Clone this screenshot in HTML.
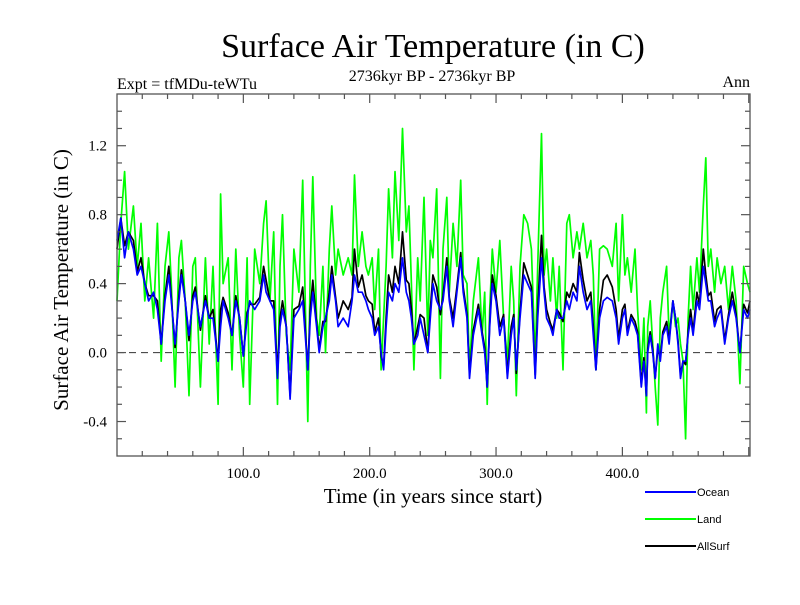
<!DOCTYPE html>
<html><head><meta charset="utf-8"><style>
body{margin:0;background:#fff;width:800px;height:600px;overflow:hidden}
svg text{font-family:"Liberation Serif",serif}
svg text.sans{font-family:"Liberation Sans",sans-serif}
</style></head><body>
<svg id="chart" width="800" height="600" xmlns="http://www.w3.org/2000/svg">
<text x="433" y="57" font-size="34" text-anchor="middle">Surface Air Temperature (in C)</text>
<text x="117" y="89" font-size="16">Expt = tfMDu-teWTu</text>
<text x="432" y="81" font-size="16" text-anchor="middle">2736kyr BP - 2736kyr BP</text>
<text x="750" y="87" font-size="16" text-anchor="end">Ann</text>
<text transform="translate(68,280) rotate(-90)" font-size="21" text-anchor="middle">Surface Air Temperature (in C)</text>
<text x="433" y="503" font-size="21" text-anchor="middle">Time (in years since start)</text>
<g id="plot"></g>
<g id="legend">
 <g><line x1="645" y1="492" x2="696" y2="492" stroke="#0000ff" stroke-width="2"/><text class="sans" x="697" y="496" font-size="11">Ocean</text></g>
 <g><line x1="645" y1="519" x2="696" y2="519" stroke="#00ff00" stroke-width="2"/><text class="sans" x="697" y="523" font-size="11">Land</text></g>
 <g><line x1="645" y1="546" x2="696" y2="546" stroke="#000" stroke-width="2"/><text class="sans" x="697" y="550" font-size="11">AllSurf</text></g>
</g>
</svg>
<script>
const years=[0,3,6,9,13,16,19,22,25,29,32,35,38,41,43,46,49,51,54,57,60,62,66,70,73,76,80,82,84,88,91,94,97,100,103,105,109,113,116,118,121,124,127,129,131,134,137,140,144,147,151,153,155,158,160,163,165,168,170,173,175,179,183,186,188,191,194,197,199,202,204,207,209,211,213,215,218,220,223,226,229,231,233,235,238,240,243,246,248,250,253,256,258,261,263,266,269,272,274,277,279,282,286,289,291,293,295,297,300,303,306,309,312,314,316,319,322,325,328,331,333,336,338,340,343,345,348,350,353,356,358,361,364,366,369,372,375,377,379,382,385,388,392,395,397,400,402,404,407,410,412,415,417,419,420,422,424,426,428,430,432,435,437,440,442,444,446,448,450,452,454,456,459,461,464,466,468,470,473,475,478,481,484,487,490,493,496,499,501];
const ocean=[0.65,0.78,0.55,0.7,0.6,0.45,0.5,0.4,0.3,0.35,0.25,0.05,0.3,0.45,0.3,0.05,0.3,0.45,0.3,0.1,0.3,0.35,0.15,0.3,0.2,0.2,-0.05,0.15,0.3,0.2,0.1,0.3,0.2,-0.02,0.2,0.3,0.25,0.3,0.45,0.35,0.3,0.25,-0.15,0.15,0.25,0.15,-0.27,0.2,0.25,0.3,-0.1,0.2,0.35,0.15,0.0,0.15,0.2,0.3,0.45,0.3,0.15,0.2,0.15,0.3,0.45,0.35,0.35,0.3,0.25,0.2,0.1,0.15,0.0,-0.1,0.15,0.35,0.3,0.4,0.35,0.55,0.35,0.3,0.2,0.05,0.1,0.2,0.1,0.0,0.2,0.4,0.3,0.25,0.3,0.5,0.3,0.15,0.35,0.55,0.35,0.2,-0.15,0.1,0.25,0.1,0.0,-0.2,0.15,0.4,0.3,0.1,0.2,-0.15,0.1,0.2,-0.1,0.2,0.45,0.4,0.35,-0.15,0.2,0.55,0.35,0.2,0.15,0.1,0.25,0.2,0.2,0.3,0.25,0.35,0.3,0.5,0.35,0.25,0.3,0.1,-0.1,0.2,0.3,0.32,0.3,0.2,0.05,0.2,0.25,0.1,0.2,0.15,0.1,-0.2,-0.05,-0.25,0.0,0.1,0.0,-0.15,0.05,-0.05,0.1,0.15,0.05,0.3,0.2,0.05,-0.15,-0.05,-0.05,0.1,0.2,0.1,0.3,0.25,0.5,0.4,0.3,0.3,0.15,0.2,0.25,0.05,0.2,0.3,0.2,0.0,0.25,0.2,0.25];
const land=[0.3,0.75,1.05,0.6,0.85,0.5,0.75,0.3,0.55,0.2,0.75,-0.05,0.5,0.7,0.4,-0.2,0.55,0.65,0.3,-0.25,0.5,0.55,-0.2,0.55,0.05,0.5,-0.3,0.92,0.4,0.55,-0.1,0.6,0.1,-0.2,0.55,-0.3,0.6,0.4,0.75,0.88,0.3,0.7,-0.3,0.5,0.8,0.1,-0.1,0.6,0.35,1.0,-0.4,0.5,1.02,0.2,0.1,0.5,0.0,0.6,0.85,0.45,0.6,0.45,0.55,0.45,1.03,0.5,0.7,0.5,0.45,0.55,0.25,0.6,-0.1,0.2,0.5,0.95,0.55,1.05,0.65,1.3,0.7,0.85,0.4,-0.1,0.55,0.3,0.9,0.1,0.65,0.55,0.95,-0.15,0.6,0.9,0.35,0.75,0.5,1.0,0.45,0.4,-0.1,0.3,0.55,0.1,0.35,-0.3,0.25,0.6,0.35,0.65,0.2,-0.05,0.5,0.3,-0.25,0.5,0.8,0.75,0.6,-0.05,0.5,1.27,0.45,0.6,0.3,0.55,0.2,0.5,-0.1,0.75,0.8,0.55,0.7,0.6,0.75,0.55,0.65,0.45,-0.1,0.6,0.62,0.6,0.5,0.75,0.3,0.8,0.45,0.55,0.35,0.6,0.25,-0.1,0.2,-0.35,0.15,0.3,0.05,-0.2,-0.42,0.2,0.35,0.5,0.1,0.3,0.15,0.2,0.05,-0.05,-0.5,0.2,0.5,0.25,0.55,0.35,0.85,1.13,0.5,0.6,0.35,0.55,0.4,0.5,0.25,0.5,0.3,-0.18,0.5,0.4,0.35];
const allsurf=[0.6,0.78,0.62,0.7,0.65,0.47,0.55,0.4,0.33,0.33,0.3,0.05,0.33,0.5,0.32,0.03,0.33,0.48,0.3,0.07,0.33,0.38,0.13,0.33,0.2,0.25,-0.05,0.25,0.32,0.23,0.1,0.33,0.2,-0.02,0.23,0.28,0.28,0.32,0.5,0.42,0.3,0.3,-0.12,0.2,0.3,0.15,-0.25,0.25,0.27,0.38,-0.1,0.25,0.42,0.17,0.02,0.18,0.18,0.35,0.5,0.32,0.2,0.3,0.25,0.32,0.6,0.38,0.45,0.33,0.3,0.28,0.12,0.2,-0.02,-0.08,0.2,0.45,0.35,0.5,0.4,0.7,0.42,0.4,0.25,0.05,0.15,0.22,0.2,0.0,0.25,0.45,0.38,0.22,0.33,0.55,0.32,0.2,0.38,0.58,0.38,0.22,-0.13,0.13,0.28,0.12,0.03,-0.2,0.17,0.45,0.33,0.15,0.22,-0.13,0.15,0.22,-0.12,0.23,0.52,0.45,0.38,-0.13,0.25,0.68,0.38,0.25,0.17,0.13,0.25,0.23,0.18,0.35,0.32,0.4,0.35,0.58,0.42,0.3,0.35,0.15,-0.1,0.25,0.42,0.45,0.38,0.25,0.08,0.25,0.28,0.12,0.22,0.18,0.12,-0.18,-0.03,-0.25,0.02,0.12,0.02,-0.15,0.02,-0.03,0.12,0.18,0.07,0.3,0.2,0.07,-0.13,-0.05,-0.07,0.12,0.25,0.12,0.35,0.28,0.6,0.45,0.33,0.35,0.18,0.25,0.27,0.07,0.22,0.35,0.22,0.0,0.28,0.23,0.3];
const xTickValues=[100,200,300,400];
const xTickLabels=["100.0","200.0","300.0","400.0"];
const yTickValues=[-0.4,0.0,0.4,0.8,1.2];
const yTickLabels=["-0.4","0.0","0.4","0.8","1.2"];

const L=117,R=750,T=94,B=456,X0=0,X1=501,Y0=-0.6,Y1=1.5;
const sx=v=>L+(v-X0)/(X1-X0)*(R-L);
const sy=v=>B-(v-Y0)/(Y1-Y0)*(B-T);
const NS="http://www.w3.org/2000/svg";
const plot=document.getElementById('plot');
function mk(tag,attrs,parent){const e=document.createElementNS(NS,tag);for(const k in attrs)e.setAttribute(k,attrs[k]);(parent||plot).appendChild(e);return e;}

const zl=mk('line',{x1:L,x2:R,y1:sy(0),y2:sy(0),stroke:'#333','stroke-width':1,'stroke-dasharray':'7,5'});



function series(vals,color,name){
  const d=vals.map((v,i)=>(i?'L':'M')+sx(years[i]).toFixed(1)+','+sy(v).toFixed(1)).join('');
  const p=mk('path',{d:d,fill:'none',stroke:color,'stroke-width':1.7,'stroke-linejoin':'round'});
  
  
}
series(land,'#00ff00','land-series');
series(allsurf,'#000000','allsurf-series');
series(ocean,'#0000ff','ocean-series');

const frame=mk('rect',{x:L,y:T,width:R-L,height:B-T,fill:'none',stroke:'#555','stroke-width':1.3});



const ax=mk('g',{stroke:'#555','stroke-width':1.2});


for(let v=20;v<X1;v+=20){
  const major=v%100===0, len=major?9:5, x=sx(v);
  mk('line',{x1:x,x2:x,y1:B,y2:B-len},ax);
  mk('line',{x1:x,x2:x,y1:T,y2:T+len},ax);
}
for(let k=-5;k<=14;k++){
  const v=k/10, major=(k%4===0), len=major?9:5, y=sy(v);
  mk('line',{x1:L,x2:L+len,y1:y,y2:y},ax);
  mk('line',{x1:R,x2:R-len,y1:y,y2:y},ax);
}
xTickValues.forEach((v,i)=>{
  const t=mk('text',{x:sx(v),y:B+22,'font-size':15,'text-anchor':'middle'});
  t.textContent=xTickLabels[i];
  
  
});
yTickValues.forEach((v,i)=>{
  const t=mk('text',{x:L-10,y:sy(v)+5,'font-size':15,'text-anchor':'end'});
  t.textContent=yTickLabels[i];
  
  
});
</script>
</body></html>
